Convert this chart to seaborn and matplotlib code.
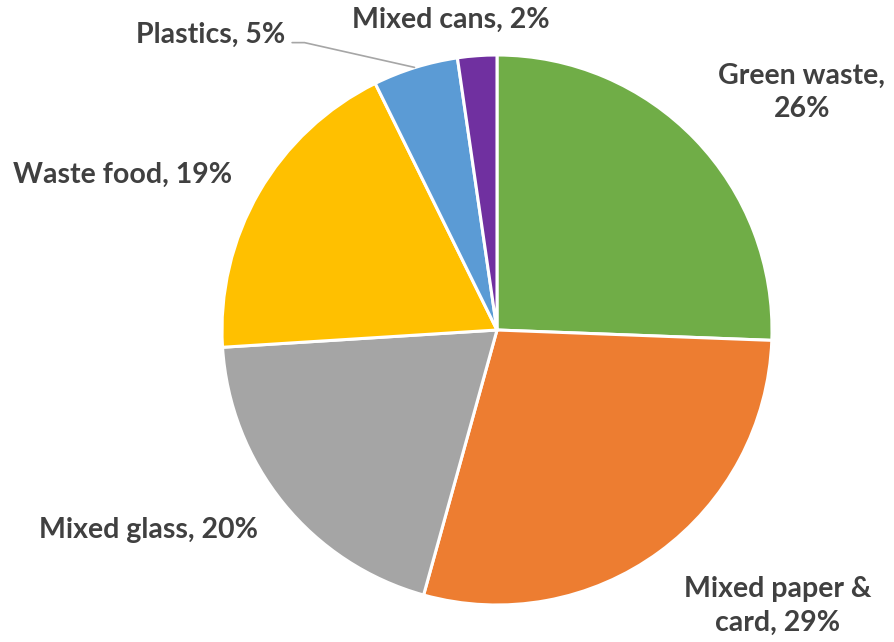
import matplotlib
matplotlib.use("Agg")
import matplotlib.pyplot as plt
import seaborn as sns

# waste composition, clockwise from 12 o'clock
categories = ["Green waste", "Mixed paper & card", "Mixed glass", "Waste food", "Plastics", "Mixed cans"]
shares = [25.6, 28.7, 19.7, 18.7, 5.0, 2.3]
label_text = ["Green waste,\n{}%", "Mixed paper &\ncard, {}%", "Mixed glass, {}%",
              "Waste food, {}%", "Plastics, {}%", "Mixed cans, {}%"]

colors = ["#70AD47", "#ED7D31", "#A5A5A5", "#FFC000", "#5B9BD5", "#7030A0"]
# label centres in pie-radius units
label_pos = [(1.109, 0.865), (1.022, -1.004), (-1.269, -0.727),
             (-1.36, 0.564), (-1.04, 1.073), (-0.167, 1.127)]

sns.set_theme(style="white")
plt.rcParams["font.family"] = ["Lato", "DejaVu Sans"]

fig = plt.figure(figsize=(8.94, 6.42), dpi=100)
W, H = 894, 642
cx, cy, r = 497, 330, 275
ax = fig.add_axes([(cx - r) / W, (H - cy - r) / H, 2 * r / W, 2 * r / H])

ax.pie(shares, colors=colors, startangle=90, counterclock=False, radius=1,
       wedgeprops=dict(edgecolor="white", linewidth=2.2))
ax.set_xlim(-1, 1)
ax.set_ylim(-1, 1)
ax.axis("off")

for txt, val, (lx, ly) in zip(label_text, shares, label_pos):
    ax.text(lx, ly, txt.format(round(val)), ha="center", va="center",
            fontsize=20.5, fontweight="bold", color="#404040",
            linespacing=1.35, clip_on=False)

# leader line for the plastics label
ax.plot([-0.745, -0.70, -0.30], [1.045, 1.045, 0.955], color="#A6A6A6",
        linewidth=1.2, clip_on=False)

fig.savefig("out.png", dpi=100)
